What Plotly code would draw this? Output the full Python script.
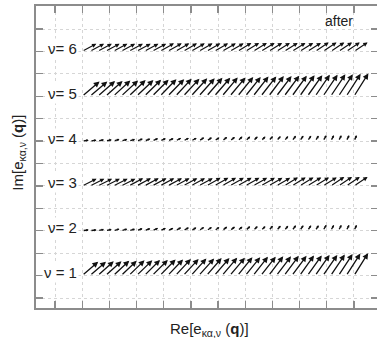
import numpy as np
import plotly.graph_objects as go

# ---- data -------------------------------------------------------------
nu_rows = [1, 2, 3, 4, 5, 6]
nu_labels = ["ν = 1", "ν= 2", "ν= 3", "ν= 4", "ν= 5", "ν= 6"]
x_ticks = [0, 1, 2, 3, 4, 5, 6, 7, 8, 9, 10, 11]
y_ticks = [0.5, 1.0, 1.5, 2.0, 2.5, 3.0, 3.5, 4.0, 4.5, 5.0, 5.5, 6.0, 6.5]

# real / imaginary components of each eigenvector arrow (one per q point)
re1 = [0.59, 0.59, 0.59, 0.59, 0.59, 0.58, 0.58, 0.58, 0.58, 0.58, 0.58, 0.57,
       0.57, 0.57, 0.57, 0.57, 0.56, 0.56, 0.56, 0.56, 0.55, 0.55, 0.55, 0.55,
       0.54, 0.54, 0.54, 0.54, 0.53, 0.53, 0.53, 0.53, 0.52, 0.52, 0.52, 0.52]
im1 = [0.31, 0.31, 0.32, 0.32, 0.33, 0.33, 0.34, 0.34, 0.35, 0.35, 0.36, 0.36,
       0.37, 0.37, 0.38, 0.38, 0.39, 0.39, 0.40, 0.40, 0.41, 0.41, 0.42, 0.42,
       0.43, 0.43, 0.44, 0.44, 0.45, 0.45, 0.46, 0.46, 0.47, 0.48, 0.49, 0.50]

re2 = [0.24, 0.24, 0.23, 0.23, 0.23, 0.23, 0.23, 0.22, 0.22, 0.22, 0.22, 0.21,
       0.21, 0.21, 0.20, 0.20, 0.20, 0.19, 0.19, 0.19, 0.18, 0.18, 0.17, 0.17,
       0.16, 0.16, 0.15, 0.15, 0.14, 0.14, 0.13, 0.13, 0.12, 0.11, 0.11, 0.10]
im2 = [0.02, 0.02, 0.03, 0.03, 0.04, 0.04, 0.04, 0.05, 0.05, 0.06, 0.06, 0.06,
       0.07, 0.07, 0.07, 0.08, 0.08, 0.08, 0.09, 0.09, 0.09, 0.10, 0.10, 0.10,
       0.11, 0.11, 0.11, 0.12, 0.12, 0.12, 0.12, 0.13, 0.13, 0.13, 0.13, 0.13]

re3 = [0.53, 0.53, 0.53, 0.53, 0.53, 0.53, 0.53, 0.53, 0.53, 0.53, 0.53, 0.53,
       0.52, 0.52, 0.52, 0.52, 0.52, 0.52, 0.52, 0.52, 0.52, 0.52, 0.52, 0.52,
       0.51, 0.51, 0.51, 0.51, 0.51, 0.51, 0.51, 0.51, 0.50, 0.50, 0.50, 0.50]
im3 = [0.16, 0.16, 0.16, 0.16, 0.16, 0.16, 0.17, 0.17, 0.17, 0.17, 0.17, 0.17,
       0.17, 0.17, 0.17, 0.17, 0.18, 0.18, 0.18, 0.18, 0.18, 0.18, 0.18, 0.18,
       0.18, 0.18, 0.19, 0.19, 0.19, 0.19, 0.19, 0.19, 0.20, 0.20, 0.20, 0.20]

re4 = [0.24, 0.24, 0.23, 0.23, 0.23, 0.23, 0.23, 0.23, 0.22, 0.22, 0.22, 0.22,
       0.21, 0.21, 0.21, 0.20, 0.20, 0.19, 0.19, 0.19, 0.18, 0.18, 0.17, 0.17,
       0.16, 0.16, 0.15, 0.15, 0.14, 0.14, 0.13, 0.13, 0.12, 0.11, 0.11, 0.10]
im4 = [0.02, 0.02, 0.03, 0.03, 0.04, 0.04, 0.04, 0.05, 0.05, 0.06, 0.06, 0.06,
       0.07, 0.07, 0.07, 0.08, 0.08, 0.08, 0.09, 0.09, 0.10, 0.10, 0.10, 0.10,
       0.11, 0.11, 0.11, 0.12, 0.12, 0.12, 0.12, 0.13, 0.13, 0.13, 0.13, 0.13]

re5 = [0.64, 0.64, 0.64, 0.63, 0.63, 0.63, 0.62, 0.62, 0.62, 0.61, 0.61, 0.61,
       0.60, 0.60, 0.60, 0.59, 0.59, 0.59, 0.58, 0.58, 0.58, 0.57, 0.57, 0.57,
       0.56, 0.56, 0.56, 0.55, 0.55, 0.55, 0.54, 0.54, 0.54, 0.53, 0.53, 0.53]
im5 = [0.33, 0.33, 0.34, 0.34, 0.35, 0.35, 0.36, 0.36, 0.37, 0.37, 0.38, 0.38,
       0.39, 0.39, 0.40, 0.40, 0.41, 0.41, 0.42, 0.42, 0.43, 0.43, 0.44, 0.44,
       0.45, 0.45, 0.46, 0.46, 0.47, 0.47, 0.48, 0.48, 0.49, 0.49, 0.50, 0.51]

re6 = [0.52, 0.52, 0.52, 0.52, 0.52, 0.52, 0.52, 0.52, 0.52, 0.52, 0.52, 0.52,
       0.51, 0.51, 0.51, 0.51, 0.51, 0.51, 0.51, 0.51, 0.51, 0.51, 0.51, 0.51,
       0.50, 0.50, 0.50, 0.50, 0.50, 0.50, 0.50, 0.50, 0.50, 0.50, 0.50, 0.50]
im6 = [0.17, 0.17, 0.17, 0.17, 0.17, 0.17, 0.17, 0.17, 0.17, 0.17, 0.18, 0.18,
       0.18, 0.18, 0.18, 0.18, 0.18, 0.18, 0.18, 0.18, 0.19, 0.19, 0.19, 0.19,
       0.19, 0.19, 0.19, 0.19, 0.19, 0.19, 0.20, 0.20, 0.20, 0.20, 0.20, 0.20]

rows_re = [re1, re2, re3, re4, re5, re6]
rows_im = [im1, im2, im3, im4, im5, im6]

# ---- styling ----------------------------------------------------------
FONT = "Liberation Sans, Arial, sans-serif"
arrow_style = {1: (1.3, 0.9), 2: (1.4, 0.35), 3: (1.15, 0.75),
               4: (1.4, 0.35), 5: (1.3, 0.9), 6: (1.15, 0.75)}
AXCOL = "#8c8c8c"
GRIDCOL = "#d6d6d6"
X_RANGE = [-0.699, 11.847]
Y_RANGE = [0.277, 7.013]

fig = go.Figure()
fig.add_trace(go.Scatter(x=[None], y=[None], mode="markers",
                         showlegend=False, hoverinfo="skip"))
fig.add_trace(go.Scatter(x=[None], y=[None], mode="markers", yaxis="y2",
                         showlegend=False, hoverinfo="skip"))

annotations = []
for nu, re, im in zip(nu_rows, rows_re, rows_im):
    qpos = np.linspace(1.0, 11.0, len(re))
    w, s = arrow_style[nu]
    for xq, dx, dy in zip(qpos, re, im):
        annotations.append(dict(
            x=xq + dx, y=nu + dy, ax=xq, ay=nu,
            xref="x", yref="y", axref="x", ayref="y",
            text="", showarrow=True, arrowhead=2, arrowsize=s,
            arrowwidth=w, arrowcolor="#111111", standoff=0))

for nu, lab in zip(nu_rows, nu_labels):
    annotations.append(dict(
        x=0.87, y=nu, xref="x", yref="y", text=lab, showarrow=False,
        xanchor="right", yanchor="middle", yshift=3,
        font=dict(family=FONT, size=15, color="#222222"),
        bgcolor="white", borderpad=1))

annotations.append(dict(
    x=0.509, y=-0.07, xref="paper", yref="paper",
    text="Re[e<sub>κα,ν</sub> (<b>q</b>)]", showarrow=False,
    xanchor="center", yanchor="middle",
    font=dict(family=FONT, size=15, color="#222222")))
annotations.append(dict(
    x=-0.054, y=0.513, xref="paper", yref="paper",
    text="Im[e<sub>κα,ν</sub> (<b>q</b>)]", showarrow=False, textangle=-90,
    xanchor="center", yanchor="middle",
    font=dict(family=FONT, size=15, color="#222222")))
annotations.append(dict(
    x=0.935, y=0.95, xref="paper", yref="paper", text="after",
    showarrow=False, xanchor="right", yanchor="middle",
    font=dict(family=FONT, size=14, color="#222222")))

fig.update_layout(
    width=377, height=338,
    margin=dict(l=36, r=0, t=6, b=30, pad=0),
    plot_bgcolor="white", paper_bgcolor="white",
    showlegend=False,
    annotations=annotations,
    xaxis=dict(range=X_RANGE, tickvals=x_ticks, showticklabels=False,
               ticks="inside", ticklen=7, tickwidth=1.2, tickcolor=AXCOL,
               showline=True, linecolor=AXCOL, linewidth=2, mirror="ticks",
               showgrid=True, gridcolor=GRIDCOL, griddash="dot", gridwidth=1,
               zeroline=False, fixedrange=True),
    yaxis=dict(range=Y_RANGE, tickvals=y_ticks, showticklabels=False,
               ticks="inside", ticklen=7, tickwidth=1.2, tickcolor=AXCOL,
               showline=True, linecolor=AXCOL, linewidth=2, mirror=False,
               showgrid=True, gridcolor=GRIDCOL, griddash="dot", gridwidth=1,
               zeroline=False, fixedrange=True),
    yaxis2=dict(range=Y_RANGE, tickvals=y_ticks, showticklabels=False,
                overlaying="y", side="right", anchor="x",
                ticks="inside", ticklen=6, tickwidth=1.2, tickcolor=AXCOL,
                showline=False, showgrid=False, zeroline=False,
                fixedrange=True),
)

fig.write_html("out.html",
               config={"displayModeBar": False, "staticPlot": True},
               post_script="document.body.style.margin='0px';"
                           "document.body.style.overflow='hidden';")
